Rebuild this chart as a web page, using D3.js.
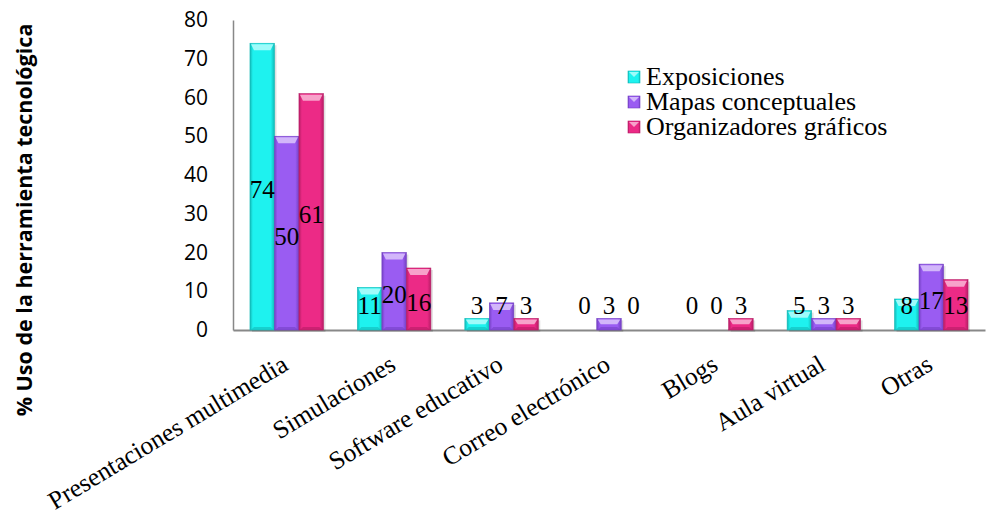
<!DOCTYPE html>
<html><head><meta charset="utf-8">
<script src="https://cdn.jsdelivr.net/npm/d3@7"></script>
<style>body{margin:0;background:#fff}svg{display:block}</style>
</head><body>
<script>
const categories = ["Presentaciones multimedia","Simulaciones","Software educativo","Correo electrónico","Blogs","Aula virtual","Otras"];
const seriesNames = ["Exposiciones","Mapas conceptuales","Organizadores gráficos"];
const exposiciones = [74, 11, 3, 0, 0, 5, 8];
const mapasConceptuales = [50, 20, 7, 3, 0, 3, 17];
const organizadoresGraficos = [61, 16, 3, 0, 3, 3, 13];
const yTicks = [0,10,20,30,40,50,60,70,80];
const yTitle = "% Uso de la herramienta tecnológica";

(function () {
const seriesValues = [exposiciones, mapasConceptuales, organizadoresGraficos];
const colors = ["#1EF2EF","#9A5CF2","#EC2A86"];
const lightColors = ["#9FFBFA","#D2B6FA","#F7A2CA"];
const darkColors = ["#12B9B7","#7440C4","#B81D66"];

const W = 987, H = 518;
const svg = d3.select("body").append("svg").attr("width", W).attr("height", H);

const pL = 233, pR = 985, pT = 20, pB = 330;
const y = d3.scaleLinear().domain([0,80]).range([pB, pT]);
const x0 = d3.scaleBand().domain(categories).range([pL, pR]).paddingInner(0.316).paddingOuter(0.158);
const x1 = d3.scaleBand().domain(seriesNames).range([0, x0.bandwidth()]);

const defs = svg.append("defs");
seriesNames.forEach((s, i) => {
  const g = defs.append("linearGradient").attr("id", "g" + i).attr("x1", "0").attr("x2", "1").attr("y1", "0").attr("y2", "0");
  g.append("stop").attr("offset", "0").attr("stop-color", darkColors[i]);
  g.append("stop").attr("offset", "0.12").attr("stop-color", colors[i]);
  g.append("stop").attr("offset", "0.85").attr("stop-color", colors[i]);
  g.append("stop").attr("offset", "1").attr("stop-color", darkColors[i]);
});

const yAxis = d3.axisLeft(y).tickValues(yTicks).tickSize(0).tickPadding(25);
const ya = svg.append("g").attr("transform", `translate(${pL},0)`).call(yAxis);
ya.select(".domain").attr("stroke", "#888").attr("stroke-width", 1.5);
ya.selectAll("text").attr("font-family", "'Open Sans', sans-serif").attr("font-size", 21).attr("fill", "#000");

const xAxis = d3.axisBottom(x0).tickSize(0).tickFormat("");
const xa = svg.append("g").attr("transform", `translate(0,${pB})`).call(xAxis);
xa.select(".domain").attr("stroke", "#888").attr("stroke-width", 2);

const data = [];
categories.forEach((c, ci) => seriesNames.forEach((s, si) => data.push({c, s, si, v: seriesValues[si][ci]})));

const bars = svg.append("g");
data.forEach(d => {
  const bx = x0(d.c) + x1(d.s);
  const bw = x1.bandwidth();
  const by = y(d.v);
  const bh = y(0) - by;
  if (d.v <= 0) return;
  const g = bars.append("g");
  g.append("rect").attr("x", bx + 2).attr("y", by + 2).attr("width", bw).attr("height", bh)
    .attr("fill", "rgba(0,0,0,0.12)");
  g.append("rect").attr("x", bx).attr("y", by).attr("width", bw).attr("height", bh)
    .attr("fill", `url(#g${d.si})`).attr("stroke", darkColors[d.si]).attr("stroke-width", 0.6);
  const bev = Math.min(7, bh / 2);
  g.append("path").attr("d", `M${bx+1},${by+1}L${bx+bw-1},${by+1}L${bx+bw-4},${by+bev}L${bx+4},${by+bev}Z`)
    .attr("fill", lightColors[d.si]);
  if (bh > 6) {
    g.append("path").attr("d", `M${bx+1},${y(0)}L${bx+bw-1},${y(0)}L${bx+bw-4},${y(0)-3}L${bx+4},${y(0)-3}Z`)
      .attr("fill", darkColors[d.si]).attr("opacity", 0.6);
  }
});

const labels = svg.append("g");
data.forEach(d => {
  const bx = x0(d.c) + x1(d.s) + x1.bandwidth() / 2;
  const mid = (y(d.v) + y(0)) / 2;
  const cy = Math.min(mid, y(7)) + 3;
  labels.append("text").attr("x", bx).attr("y", cy).attr("text-anchor", "middle")
    .attr("dominant-baseline", "central")
    .attr("font-family", "'Liberation Serif', 'Times New Roman', serif").attr("font-size", 25).attr("fill", "#000")
    .text(d.v);
});

const catG = svg.append("g");
categories.forEach(c => {
  const cx = x0(c) + x0.bandwidth() / 2 + 3;
  catG.append("text").attr("transform", `translate(${cx},${pB + 39}) rotate(-31)`)
    .attr("text-anchor", "end")
    .attr("font-family", "'Liberation Serif', 'Times New Roman', serif").attr("font-size", 25.5).attr("fill", "#000")
    .text(c);
});

svg.append("text").attr("transform", `translate(32,220) rotate(-90)`).attr("text-anchor", "middle")
  .attr("font-family", "'Open Sans', sans-serif").attr("font-weight", "bold").attr("font-size", 21.5).attr("fill", "#000")
  .text(yTitle);

const lg = svg.append("g");
seriesNames.forEach((s, i) => {
  const ly = 77 + i * 25;
  lg.append("rect").attr("x", 628).attr("y", ly - 6).attr("width", 12).attr("height", 12)
    .attr("fill", `url(#g${i})`).attr("stroke", darkColors[i]).attr("stroke-width", 0.6);
  lg.append("path").attr("d", `M629,${ly-5}L639,${ly-5}L634,${ly}Z`).attr("fill", lightColors[i]);
});
const lt = lg.append("text")
  .attr("font-family", "'Liberation Serif', 'Times New Roman', serif").attr("font-size", 26).attr("fill", "#000");
seriesNames.forEach((s, i) => {
  lt.append("tspan").attr("x", 646).attr("y", 77 + i * 25 + 8).text(s);
});
})();
</script>
</body></html>
